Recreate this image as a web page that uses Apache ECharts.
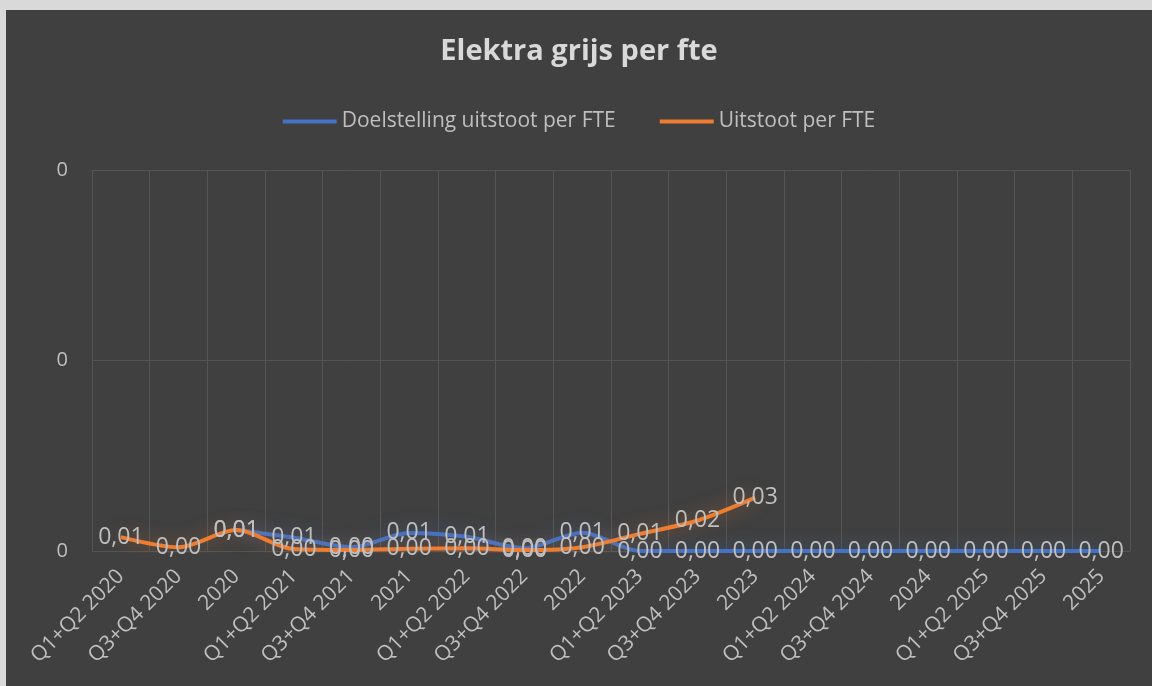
<!DOCTYPE html>
<html>
<head>
<meta charset="utf-8">
<script src="https://cdn.jsdelivr.net/npm/echarts@6/dist/echarts.min.js"></script>
<style>
  html, body { margin: 0; padding: 0; background: #ffffff; }
  #frame { position: absolute; left: 0; top: 0; width: 1152px; height: 686px; background: #d9d9d9; }
  #chart { position: absolute; left: 6px; top: 10px; width: 1146px; height: 676px; background: #404040; }
</style>
</head>
<body>
<div id="frame"></div>
<div id="chart"></div>
<script>
var categories = ['Q1+Q2 2020', 'Q3+Q4 2020', '2020', 'Q1+Q2 2021', 'Q3+Q4 2021', '2021',
    'Q1+Q2 2022', 'Q3+Q4 2022', '2022', 'Q1+Q2 2023', 'Q3+Q4 2023', '2023',
    'Q1+Q2 2024', 'Q3+Q4 2024', '2024', 'Q1+Q2 2025', 'Q3+Q4 2025', '2025'];

// doelstelling (blauw)
var doelstelling = [null, null, 0.011, 0.007, 0.002, 0.0095, 0.0075, 0.0015, 0.0096,
    0, 0, 0, 0, 0, 0, 0, 0, 0];

// uitstoot (oranje)
var uitstoot = [0.0073, 0.002, 0.011, 0.001, 0.0005, 0.0012, 0.0014, 0.0005, 0.002,
    0.009, 0.016, 0.028];

var textColor = '#bfbfbf';
var fontName = 'Open Sans';

function nlFormat(p) {
    return p.value.toFixed(2).replace('.', ',');
}

var myChart = echarts.init(document.getElementById('chart'));
var option = {
    backgroundColor: '#404040',
    title: {
        text: 'Elektra grijs per fte',
        left: 'center',
        top: 22,
        textStyle: {
            color: '#d9d9d9',
            fontSize: 29,
            fontWeight: 'bold',
            fontFamily: fontName
        }
    },
    legend: {
        top: 96,
        left: 'center',
        itemWidth: 54,
        itemHeight: 4,
        itemGap: 44,
        icon: 'rect',
        textStyle: {
            color: textColor,
            fontSize: 21,
            fontFamily: fontName
        },
        data: ['Doelstelling uitstoot per FTE', 'Uitstoot per FTE']
    },
    grid: {
        left: 86,
        right: 22,
        top: 160,
        bottom: 135,
        containLabel: false
    },
    xAxis: {
        type: 'category',
        data: categories,
        boundaryGap: true,
        axisLine: { show: false },
        axisTick: { show: false },
        splitLine: {
            show: true,
            lineStyle: { color: '#555555', width: 1 }
        },
        axisLabel: {
            interval: 0,
            rotate: 45,
            margin: 22,
            color: textColor,
            fontSize: 21,
            fontFamily: fontName
        }
    },
    yAxis: {
        type: 'value',
        min: 0,
        max: 0.2,
        interval: 0.1,
        axisLine: { show: false },
        axisTick: { show: false },
        splitLine: {
            lineStyle: { color: '#555555', width: 1 }
        },
        axisLabel: {
            margin: 24,
            color: textColor,
            fontSize: 20,
            fontFamily: fontName,
            formatter: function (v) { return v.toFixed(0); }
        }
    },
    series: [{
        name: 'Doelstelling uitstoot per FTE',
        type: 'line',
        data: doelstelling,
        smooth: 0.3,
        showSymbol: true,
        symbol: 'circle',
        symbolSize: 0,
        itemStyle: { color: '#4472c4' },
        lineStyle: {
            color: '#4472c4',
            width: 4,
            shadowColor: 'rgba(68, 114, 196, 0.6)',
            shadowBlur: 18
        },
        label: {
            show: true,
            position: 'inside',
            formatter: nlFormat,
            color: textColor,
            fontSize: 23,
            fontFamily: fontName
        }
    }, {
        name: 'Uitstoot per FTE',
        type: 'line',
        data: uitstoot,
        smooth: 0.3,
        showSymbol: true,
        symbol: 'circle',
        symbolSize: 0,
        itemStyle: { color: '#ed7d31' },
        lineStyle: {
            color: '#ed7d31',
            width: 4,
            shadowColor: 'rgba(237, 125, 49, 0.5)',
            shadowBlur: 18
        },
        label: {
            show: true,
            position: 'inside',
            formatter: nlFormat,
            color: textColor,
            fontSize: 23,
            fontFamily: fontName
        }
    }]
};
myChart.setOption(option);
</script>
</body>
</html>
